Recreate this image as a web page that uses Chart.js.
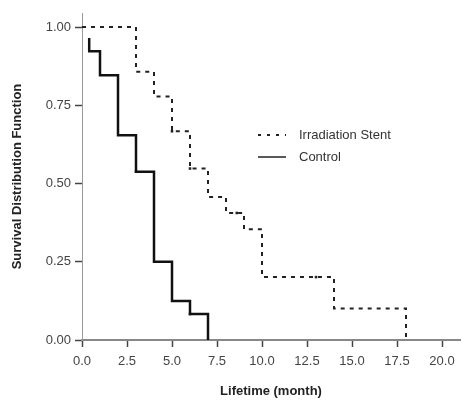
<!DOCTYPE html>
<html>
<head>
<meta charset="utf-8">
<script src="https://cdn.jsdelivr.net/npm/chart.js@4/dist/chart.umd.min.js"></script>
<style>
  html, body { margin: 0; padding: 0; background: #fff; }
  #km { display: block; }
</style>
</head>
<body>
<canvas id="km" width="464" height="403"></canvas>
<script>
// Kaplan-Meier survival
var stentTime = [0, 3, 4, 5, 6, 7, 8, 9, 10, 14, 18];
var stentSurv = [1, 0.857, 0.778, 0.667, 0.548, 0.457, 0.406, 0.354, 0.201, 0.101, 0];
var controlTime = [0.4, 0.4, 1, 2, 3, 4, 5, 6, 7];
var controlSurv = [0.965, 0.923, 0.846, 0.654, 0.538, 0.25, 0.125, 0.083, 0];

// censored observations (small marks on the curves)
var stentCensTime = [5, 6, 8.6, 13];
var stentCensSurv = [0.667, 0.548, 0.406, 0.201];
var controlCensTime = [3, 6];
var controlCensSurv = [0.538, 0.083];

var xTicks = [0, 2.5, 5, 7.5, 10, 12.5, 15, 17.5, 20];
var yTicks = [0, 0.25, 0.5, 0.75, 1];
var seriesNames = ["Irradiation Stent", "Control"];

function pts(xs, ys) {
    return xs.map(function (x, i) { return { x: x, y: ys[i] }; });
}

// legend drawn inside the plot, right of the curves
var insideLegend = {
    id: 'insideLegend',
    afterDraw: function (chart) {
        var c = chart.ctx;
        var a = chart.chartArea;
        var x0 = a.left + 176, y0 = a.top + 122;
        c.save();
        c.strokeStyle = '#222';
        c.lineWidth = 2;
        c.setLineDash([3, 6]);
        c.beginPath(); c.moveTo(x0, y0); c.lineTo(x0 + 28, y0); c.stroke();
        c.setLineDash([]);
        c.lineWidth = 1.5;
        c.beginPath(); c.moveTo(x0, y0 + 22); c.lineTo(x0 + 28, y0 + 22); c.stroke();
        c.fillStyle = '#333';
        c.font = '13px "Liberation Sans", Arial, sans-serif';
        c.textBaseline = 'middle';
        c.fillText(seriesNames[0], x0 + 41, y0);
        c.fillText(seriesNames[1], x0 + 41, y0 + 22);
        c.restore();
    }
};

var ctx = document.getElementById('km').getContext('2d');
var chart = new Chart(ctx, {
    type: 'line',
    data: {
        datasets: [
            {
                label: seriesNames[0],
                data: pts(stentTime, stentSurv),
                stepped: 'before',
                borderColor: '#222',
                borderWidth: 2,
                borderDash: [4, 5],
                pointRadius: 0,
                fill: false
            },
            {
                label: seriesNames[1],
                data: pts(controlTime, controlSurv),
                stepped: 'before',
                borderColor: '#111',
                borderWidth: 2.5,
                pointRadius: 0,
                fill: false
            },
            {
                type: 'scatter',
                label: 'stent censored',
                data: pts(stentCensTime, stentCensSurv),
                pointStyle: 'rect',
                pointRadius: 1.8,
                backgroundColor: '#222',
                borderWidth: 0
            },
            {
                type: 'scatter',
                label: 'control censored',
                data: pts(controlCensTime, controlCensSurv),
                pointStyle: 'rect',
                pointRadius: 1.8,
                backgroundColor: '#222',
                borderWidth: 0
            }
        ]
    },
    options: {
        responsive: false,
        animation: false,
        layout: { padding: { top: 13, right: 1, left: 0, bottom: 0 } },
        plugins: {
            legend: { display: false },
            tooltip: { enabled: false }
        },
        scales: {
            x: {
                type: 'linear',
                min: 0,
                max: 21,
                afterBuildTicks: function (s) { s.ticks = xTicks.map(function (v) { return { value: v }; }); },
                afterFit: function (s) { s.height = 63; },
                grid: { drawOnChartArea: false, drawTicks: true, tickLength: 7, tickWidth: 1.5, color: '#444' },
                border: { color: '#888', width: 2 },
                ticks: {
                    padding: 7,
                    maxRotation: 0,
                    color: '#444',
                    font: { family: '"Liberation Sans", Arial, sans-serif', size: 13 },
                    callback: function (v) { return Number(v).toFixed(1); }
                },
                title: {
                    display: true,
                    text: 'Lifetime (month)',
                    color: '#222',
                    font: { family: '"Liberation Sans", Arial, sans-serif', size: 13, weight: 'bold' },
                    padding: { top: 0, bottom: 4 }
                }
            },
            y: {
                type: 'linear',
                min: 0,
                max: 1.045,
                afterBuildTicks: function (s) { s.ticks = yTicks.map(function (v) { return { value: v }; }); },
                afterFit: function (s) { s.width = 82; },
                grid: { drawOnChartArea: false, drawTicks: true, tickLength: 7, tickWidth: 1.5, color: '#444' },
                border: { color: '#999', width: 1 },
                ticks: {
                    padding: 4,
                    color: '#444',
                    font: { family: '"Liberation Sans", Arial, sans-serif', size: 13 },
                    callback: function (v) { return Number(v).toFixed(2); }
                },
                title: {
                    display: true,
                    text: 'Survival Distribution Function',
                    color: '#222',
                    font: { family: '"Liberation Sans", Arial, sans-serif', size: 13, weight: 'bold' },
                    padding: { top: 10, bottom: 0 }
                }
            }
        }
    },
    plugins: [insideLegend]
});
</script>
</body>
</html>
